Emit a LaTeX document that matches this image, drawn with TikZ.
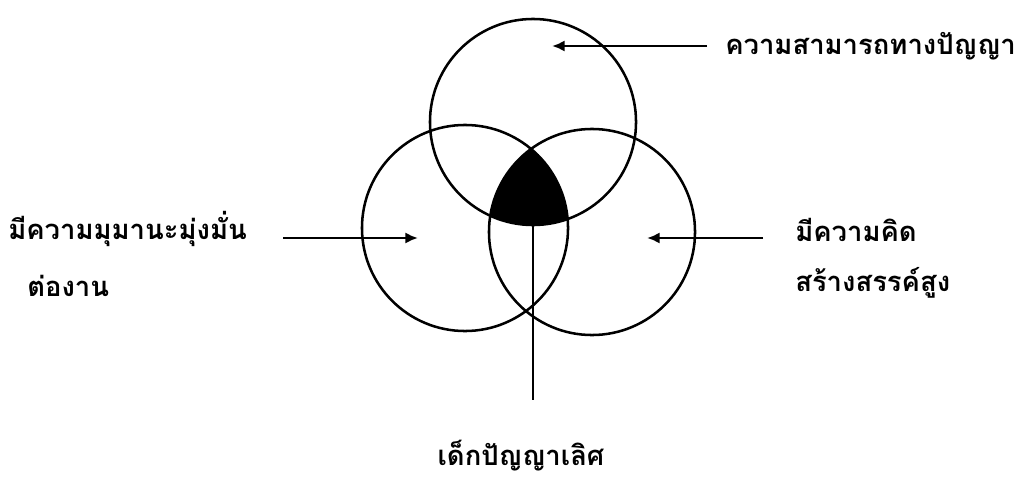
\documentclass[tikz,border=0pt]{standalone}
\usepackage{fontspec}
\newfontfamily\thaifont[Script=Thai]{Loma}
\usepackage{tikz}
\usetikzlibrary{arrows.meta}
\tikzset{
  venn/.style  = {circle, draw=black, line width=1.8pt,
                  minimum size=5.15cm, inner sep=0pt, outer sep=0pt},
  label/.style = {font=\thaifont\bfseries\fontsize{19.5}{24}\selectfont,
                  inner sep=0pt, anchor=west},
  pointer/.style = {line width=1.8pt, -{Latex[length=9pt,width=8pt]}},
}

\begin{document}
\begin{tikzpicture}[x=0.025cm, y=-0.025cm,
  stem/.style={line width=1.8pt}
]
\useasboundingbox (0,0) rectangle (1023,479);
% Three circles
\node[venn] (ctop)   at (533,122) {};
\node[venn] (cleft)  at (465,228) {};
\node[venn] (cright) at (592,232) {};
% Common part of all three
\begin{scope}
  \clip (ctop.center) circle[radius=103];
  \clip (cleft.center) circle[radius=103];
  \fill (cright.center) circle[radius=103];
\end{scope}
% Labels
\node[label] (ability) at (725,46)  {ความสามารถทางปัญญา};
\node[label] (effort)  at (8,229)   {มีความมุมานะมุ่งมั่น};
\node[label] (effort2) at (27,286)  {ต่องาน};
\node[label] (create)  at (795,230) {มีความคิด};
\node[label] (create2) at (795,283) {สร้างสรรค์สูง};
\node[label, anchor=center] (gifted) at (521,456) {เด็กปัญญาเลิศ};
% Arrow ends
\coordinate (abilityT) at (707,46);
\coordinate (abilityH) at (552,46);
\coordinate (effortT)  at (283,238);
\coordinate (effortH)  at (418,238);
\coordinate (createT)  at (763,238);
\coordinate (createH)  at (647,238);
\coordinate (giftedT)  at (533,226);
\coordinate (giftedB)  at (533,400);
% Pointers
\draw[pointer] (abilityT) -- (abilityH);
\draw[pointer] (effortT) -- (effortH);
\draw[pointer] (createT) -- (createH);
\draw[stem] (giftedT) -- (giftedB);
\end{tikzpicture}
\end{document}
